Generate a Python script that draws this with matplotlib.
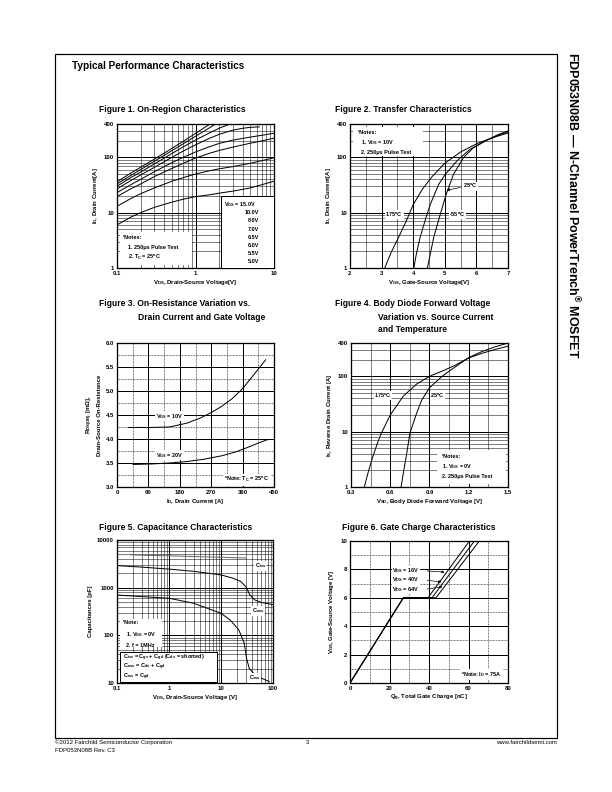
import matplotlib
matplotlib.use('Agg')
import matplotlib.pyplot as plt
import numpy as np
from matplotlib.ticker import FixedLocator, FixedFormatter, NullFormatter, LogLocator, MultipleLocator
from matplotlib.patches import Rectangle

plt.rcParams['font.family'] = ['Liberation Sans', 'DejaVu Sans']
plt.rcParams['mathtext.fontset'] = 'custom'
plt.rcParams['mathtext.rm'] = 'Liberation Sans:bold'
plt.rcParams['mathtext.it'] = 'Liberation Sans:bold'
plt.rcParams['mathtext.bf'] = 'Liberation Sans:bold'
plt.rcParams['mathtext.default'] = 'regular'

W, H = 612, 792

# Figure 1: on-region, one curve per VGS
fig1_vgs = ['15.0V', '10.0V', '8.0V', '7.0V', '6.5V', '6.0V', '5.5V', '5.0V']
fig1_vds = [
    [0.1, 0.15, 0.2, 0.3, 0.5, 0.7, 1.0, 1.2, 1.4, 1.55],
    [0.1, 0.15, 0.2, 0.3, 0.5, 0.7, 1.0, 1.3, 1.6, 1.8],
    [0.1, 0.15, 0.2, 0.3, 0.5, 0.7, 1.0, 1.5, 2.0, 2.5, 2.8],
    [0.1, 0.15, 0.2, 0.3, 0.5, 0.7, 1, 1.5, 2, 3, 4, 5, 6.5],
    [0.1, 0.15, 0.2, 0.3, 0.5, 0.7, 1, 1.5, 2, 3, 5, 7, 10],
    [0.1, 0.15, 0.2, 0.3, 0.5, 0.7, 1, 1.5, 2, 3, 5, 7, 10],
    [0.1, 0.15, 0.2, 0.3, 0.5, 0.7, 1, 1.5, 2, 3, 5, 7, 10],
    [0.1, 0.15, 0.2, 0.3, 0.5, 0.7, 1, 1.5, 2, 3, 5, 7, 10],
]
fig1_id = [
    [36, 52, 66, 93, 145, 195, 270, 320, 370, 400],
    [33, 47, 60, 85, 132, 176, 240, 300, 360, 400],
    [30, 43, 54, 76, 117, 155, 205, 275, 335, 380, 400],
    [27, 38, 48, 66, 100, 130, 168, 220, 260, 310, 335, 348, 355],
    [23, 32, 40, 55, 80, 100, 125, 155, 178, 205, 232, 250, 272],
    [19.5, 27, 33, 45, 63, 78, 97, 118, 133, 153, 180, 198, 222],
    [13, 18, 22, 28, 37, 43, 50, 57, 62, 68, 78, 87, 98],
    [6, 8.3, 10, 12.5, 15.5, 17.5, 19.5, 21, 22.5, 24.5, 28, 32, 37],
]

# Figure 2: transfer
fig2_temps = ['175$^o$C', '25$^o$C', '-55$^o$C']
fig2_vgs = [
    [3.1, 3.3, 3.55, 3.8, 4.0, 4.3, 4.6, 5.0, 5.5, 6.0, 6.5, 7.0],
    [4.02, 4.1, 4.22, 4.4, 4.54, 4.8, 5.0, 5.4, 5.8, 6.3, 6.7, 7.0],
    [4.45, 4.55, 4.65, 4.86, 5.05, 5.28, 5.6, 5.9, 6.3, 6.7, 7.0],
]
fig2_id = [
    [1, 1.9, 3.7, 7.5, 14, 27, 45, 78, 125, 175, 225, 275],
    [1, 1.8, 3.6, 8, 14, 32, 48, 88, 140, 200, 250, 290],
    [1, 1.9, 3.6, 9.5, 22, 50, 100, 148, 200, 260, 300],
]

# Figure 3: on-resistance
fig3_id10 = [32, 90, 150, 200, 240, 270, 300, 330, 360, 390, 426]
fig3_r10 = [4.24, 4.24, 4.25, 4.33, 4.44, 4.55, 4.68, 4.84, 5.05, 5.32, 5.65]
fig3_id20 = [46, 100, 150, 200, 250, 300, 340, 380, 410, 433]
fig3_r20 = [3.47, 3.48, 3.50, 3.53, 3.58, 3.65, 3.73, 3.84, 3.93, 3.99]

# Figure 4: body diode
fig4_vsd175 = [0.402, 0.43, 0.466, 0.5, 0.53, 0.6, 0.7, 0.8, 0.9, 1.0, 1.1, 1.2, 1.3, 1.4, 1.5]
fig4_is175 = [1, 1.8, 3.5, 6, 9.2, 20, 44, 72, 100, 125, 160, 215, 260, 305, 350]
fig4_vsd25 = [0.683, 0.70, 0.72, 0.75, 0.8, 0.84, 0.9, 1.0, 1.1, 1.2, 1.3, 1.4, 1.5]
fig4_is25 = [1, 1.8, 3.3, 9.3, 21, 37, 62, 102, 150, 218, 280, 340, 400]

# Figure 5: capacitance
fig5_vds_ciss = [0.18, 0.3, 1, 3, 10, 20, 30]
fig5_ciss = [4900, 4800, 4650, 4500, 4350, 4250, 4200]
fig5_vds_coss = [0.1, 0.3, 1, 3, 10, 17, 24, 30, 36, 45, 60, 100]
fig5_coss = [2900, 2700, 2450, 2200, 1850, 1580, 1350, 1050, 700, 550, 490, 440]
fig5_vds_crss = [0.1, 0.3, 1, 3, 10, 15, 22, 28, 31, 35, 45, 60, 85]
fig5_crss = [700, 650, 600, 470, 290, 210, 130, 68, 33, 20, 15, 12.6, 10.7]

# Figure 6: gate charge
fig6_vds = ['16V', '40V', '64V']
fig6_qg = [[0, 27, 39.5, 60.5], [0, 27, 41.5, 63], [0, 27, 43.5, 65.5]]
fig6_vgs = [0, 6, 6, 10]


def px(x, y):
    return x / W, 1 - y / H


def add_axes(fig, x0, y0, x1, y1):
    ax = fig.add_axes([x0 / W, 1 - y1 / H, (x1 - x0) / W, (y1 - y0) / H])
    for s in ax.spines.values():
        s.set_linewidth(1.3)
    ax.tick_params(which='both', length=0, labelsize=6, pad=3)
    return ax


def log_grid(ax, axis):
    loc = LogLocator(base=10, subs=np.arange(2, 10))
    if axis == 'x':
        ax.xaxis.set_minor_locator(loc)
        ax.xaxis.set_minor_formatter(NullFormatter())
    else:
        ax.yaxis.set_minor_locator(loc)
        ax.yaxis.set_minor_formatter(NullFormatter())


def set_ticks(ax, axis, vals, labels):
    a = ax.xaxis if axis == 'x' else ax.yaxis
    a.set_major_locator(FixedLocator(vals))
    a.set_major_formatter(FixedFormatter(labels))


def grids(ax, minor_ls='-'):
    ax.grid(which='major', color='black', lw=1.0)
    ax.grid(which='minor', color='black', lw=0.5, ls=minor_ls)
    ax.set_axisbelow(True)


def boldticks(ax):
    for lab in ax.get_xticklabels() + ax.get_yticklabels():
        lab.set_fontweight('bold')
        lab.set_fontsize(6)


def white_box(ax, x0, y0, w, h, edge=True):
    ax.add_patch(Rectangle((x0, y0), w, h, transform=ax.transAxes, facecolor='white',
                           edgecolor='black' if edge else 'white', lw=1.0 if edge else 0, zorder=3))


lab_kw = dict(fontsize=6, fontweight='bold')
txt_kw = dict(fontsize=5.5, fontweight='bold', zorder=5)
bb = dict(facecolor='white', edgecolor='none', pad=0.5)

fig = plt.figure(figsize=(W / 72, H / 72), dpi=72)

# page frame and headings
fig.add_artist(Rectangle(px(55, 738), 502 / W, 684 / H, transform=fig.transFigure,
                         facecolor='none', edgecolor='black', lw=1.2))
fig.text(*px(72, 66), 'Typical Performance Characteristics', fontsize=10, fontweight='bold', va='center')
fig.text(*px(573, 52), 'FDP053N08B \u2014 N-Channel PowerTrench$^{\u00ae}$ MOSFET',
         rotation=270, fontsize=12.5, fontweight='bold', va='top', ha='center')
fig.text(*px(55, 742), '\u00a92012 Fairchild Semiconductor Corporation', fontsize=6, va='center')
fig.text(*px(55, 750), 'FDP053N08B Rev. C3', fontsize=6, va='center')
fig.text(*px(307, 742), '3', fontsize=6, va='center', ha='center')
fig.text(*px(557, 742), 'www.fairchildsemi.com', fontsize=6, va='center', ha='right')

title_kw = dict(fontsize=8.5, fontweight='bold', va='center')
fig.text(*px(99, 109), 'Figure 1. On-Region Characteristics', **title_kw)
fig.text(*px(335, 109), 'Figure 2. Transfer Characteristics', **title_kw)
fig.text(*px(99, 304), 'Figure 3. On-Resistance Variation vs.', **title_kw)
fig.text(*px(138, 317), 'Drain Current and Gate Voltage', **title_kw)
fig.text(*px(335, 304), 'Figure 4. Body Diode Forward Voltage', **title_kw)
fig.text(*px(378, 317), 'Variation vs. Source Current', **title_kw)
fig.text(*px(378, 329), 'and Temperature', **title_kw)
fig.text(*px(99, 527), 'Figure 5. Capacitance Characteristics', **title_kw)
fig.text(*px(342, 527), 'Figure 6. Gate Charge Characteristics', **title_kw)

# ---- Figure 1
ax1 = add_axes(fig, 117, 124, 274, 268)
ax1.set_xscale('log')
ax1.set_yscale('log')
ax1.set_xlim(0.1, 10)
ax1.set_ylim(1, 400)
log_grid(ax1, 'x')
log_grid(ax1, 'y')
set_ticks(ax1, 'x', [0.1, 1, 10], ['0.1', '1', '10'])
set_ticks(ax1, 'y', [1, 10, 100, 400], ['1', '10', '100', '400'])
grids(ax1)
for xs, ys in zip(fig1_vds, fig1_id):
    ax1.plot(xs, ys, color='black', lw=1.0, zorder=2)
white_box(ax1, 0.66, 0.0, 0.34, 0.5)
ax1.text(0.68, 0.44, 'V$_{GS}$ = ' + fig1_vgs[0], transform=ax1.transAxes, va='center', **txt_kw)
for i, v in enumerate(fig1_vgs[1:]):
    ax1.text(0.905, 0.44 - (i + 1) * 0.0565, v, transform=ax1.transAxes, ha='right', va='center', **txt_kw)
white_box(ax1, 0.02, 0.02, 0.46, 0.23, edge=False)
ax1.text(0.04, 0.215, '*Notes:', transform=ax1.transAxes, va='center', **txt_kw)
ax1.text(0.07, 0.145, '1. 250\u03bcs Pulse Test', transform=ax1.transAxes, va='center', **txt_kw)
ax1.text(0.07, 0.075, '2. T$_C$ = 25$^o$C', transform=ax1.transAxes, va='center', **txt_kw)
ax1.set_xlabel('V$_{DS}$, Drain-Source Voltage[V]', labelpad=2, **lab_kw)
ax1.set_ylabel('I$_D$, Drain Current[A]', labelpad=4, **lab_kw)
boldticks(ax1)

# ---- Figure 2
ax2 = add_axes(fig, 350, 124, 508, 268)
ax2.set_yscale('log')
ax2.set_xlim(2, 7)
ax2.set_ylim(1, 400)
log_grid(ax2, 'y')
ax2.xaxis.set_minor_locator(MultipleLocator(0.5))
set_ticks(ax2, 'y', [1, 10, 100, 400], ['1', '10', '100', '400'])
set_ticks(ax2, 'x', [2, 3, 4, 5, 6, 7], ['2', '3', '4', '5', '6', '7'])
grids(ax2)
for xs, ys in zip(fig2_vgs, fig2_id):
    ax2.plot(xs, ys, color='black', lw=1.0, zorder=2)
white_box(ax2, 0.02, 0.78, 0.44, 0.2, edge=False)
ax2.text(0.05, 0.94, '*Notes:', transform=ax2.transAxes, va='center', **txt_kw)
ax2.text(0.07, 0.87, '1. V$_{DS}$ = 10V', transform=ax2.transAxes, va='center', **txt_kw)
ax2.text(0.07, 0.80, '2. 250\u03bcs Pulse Test', transform=ax2.transAxes, va='center', **txt_kw)
ax2.text(3.4, 9.2, fig2_temps[0], ha='center', va='center', bbox=bb, **txt_kw)
ax2.text(5.8, 30, fig2_temps[1], ha='center', va='center', bbox=bb, **txt_kw)
ax2.annotate('', xy=(5.0, 25), xytext=(5.55, 29),
             arrowprops=dict(arrowstyle='-|>', color='black', lw=0.7, mutation_scale=5), zorder=5)
ax2.text(5.4, 9.2, fig2_temps[2], ha='center', va='center', bbox=bb, **txt_kw)
ax2.set_xlabel('V$_{GS}$, Gate-Source Voltage[V]', labelpad=2, **lab_kw)
ax2.set_ylabel('I$_D$, Drain Current[A]', labelpad=4, **lab_kw)
boldticks(ax2)

# ---- Figure 3
ax3 = add_axes(fig, 117, 343, 274, 487)
ax3.set_xlim(0, 450)
ax3.set_ylim(3.0, 6.0)
ax3.xaxis.set_major_locator(MultipleLocator(90))
ax3.xaxis.set_minor_locator(MultipleLocator(45))
ax3.yaxis.set_major_locator(FixedLocator([3.0, 3.5, 4.0, 4.5, 5.0, 5.5, 6.0]))
ax3.yaxis.set_major_formatter(FixedFormatter(['3.0', '3.5', '4.0', '4.5', '5.0', '5.5', '6.0']))
ax3.yaxis.set_minor_locator(MultipleLocator(0.25))
grids(ax3, minor_ls=(0, (2, 1)))
ax3.plot(fig3_id10, fig3_r10, color='black', lw=1.0, zorder=2)
ax3.plot(fig3_id20, fig3_r20, color='black', lw=1.0, zorder=2)
ax3.text(150, 4.47, 'V$_{GS}$ = 10V', ha='center', va='center', bbox=bb, **txt_kw)
ax3.text(150, 3.66, 'V$_{GS}$ = 20V', ha='center', va='center', bbox=bb, **txt_kw)
ax3.text(0.97, 0.05, '*Note: T$_C$ = 25$^o$C', transform=ax3.transAxes, ha='right', va='center',
         bbox=dict(facecolor='white', edgecolor='none', pad=1.5), **txt_kw)
ax3.set_xlabel('I$_D$, Drain Current [A]', labelpad=2, **lab_kw)
ax3.set_ylabel('R$_{DS(ON)}$ [m\u03a9],\nDrain-Source On-Resistance', labelpad=4, linespacing=1.3, **lab_kw)
boldticks(ax3)

# ---- Figure 4
ax4 = add_axes(fig, 351, 343, 508, 487)
ax4.set_yscale('log')
ax4.set_xlim(0.3, 1.5)
ax4.set_ylim(1, 400)
log_grid(ax4, 'y')
ax4.xaxis.set_minor_locator(MultipleLocator(0.15))
set_ticks(ax4, 'x', [0.3, 0.6, 0.9, 1.2, 1.5], ['0.3', '0.6', '0.9', '1.2', '1.5'])
set_ticks(ax4, 'y', [1, 10, 100, 400], ['1', '10', '100', '400'])
grids(ax4)
ax4.plot(fig4_vsd175, fig4_is175, color='black', lw=1.0, zorder=2)
ax4.plot(fig4_vsd25, fig4_is25, color='black', lw=1.0, zorder=2)
ax4.text(0.545, 45, '175$^o$C', ha='center', va='center', bbox=bb, **txt_kw)
ax4.text(0.96, 45, '25$^o$C', ha='center', va='center', bbox=bb, **txt_kw)
white_box(ax4, 0.55, 0.02, 0.44, 0.24, edge=False)
ax4.text(0.58, 0.21, '*Notes:', transform=ax4.transAxes, va='center', **txt_kw)
ax4.text(0.58, 0.14, '1. V$_{GS}$ = 0V', transform=ax4.transAxes, va='center', **txt_kw)
ax4.text(0.58, 0.07, '2. 250\u03bcs Pulse Test', transform=ax4.transAxes, va='center', **txt_kw)
ax4.set_xlabel('V$_{SD}$, Body Diode Forward Voltage [V]', labelpad=2, **lab_kw)
ax4.set_ylabel('I$_S$, Reverse Drain Current [A]', labelpad=4, **lab_kw)
boldticks(ax4)

# ---- Figure 5
ax5 = add_axes(fig, 117, 540, 273, 683)
ax5.set_xscale('log')
ax5.set_yscale('log')
ax5.set_xlim(0.1, 100)
ax5.set_ylim(10, 10000)
log_grid(ax5, 'x')
log_grid(ax5, 'y')
set_ticks(ax5, 'x', [0.1, 1, 10, 100], ['0.1', '1', '10', '100'])
set_ticks(ax5, 'y', [10, 100, 1000, 10000], ['10', '100', '1000', '10000'])
grids(ax5)
ax5.plot(fig5_vds_ciss, fig5_ciss, color='#666666', lw=1.0, zorder=2)
ax5.plot(fig5_vds_coss, fig5_coss, color='black', lw=1.0, zorder=2)
ax5.plot(fig5_vds_crss, fig5_crss, color='black', lw=1.0, zorder=2)
ax5.text(57, 2900, 'C$_{iss}$', ha='center', va='center', bbox=bb, **txt_kw)
ax5.text(52, 330, 'C$_{oss}$', ha='center', va='center', bbox=bb, **txt_kw)
ax5.text(45, 13, 'C$_{rss}$', ha='center', va='center', bbox=bb, **txt_kw)
white_box(ax5, 0.02, 0.25, 0.27, 0.2, edge=False)
ax5.text(0.04, 0.42, '*Note:', transform=ax5.transAxes, va='center', **txt_kw)
ax5.text(0.06, 0.34, '1. V$_{GS}$ = 0V', transform=ax5.transAxes, va='center', **txt_kw)
ax5.text(0.06, 0.26, '2. f = 1MHz', transform=ax5.transAxes, va='center', **txt_kw)
white_box(ax5, 0.02, 0.01, 0.62, 0.21)
ax5.text(0.04, 0.175, 'C$_{iss}$ = C$_{gs}$ + C$_{gd}$ (C$_{ds}$ = shorted)', transform=ax5.transAxes,
         va='center', **txt_kw)
ax5.text(0.04, 0.11, 'C$_{oss}$ = C$_{ds}$ + C$_{gd}$', transform=ax5.transAxes, va='center', **txt_kw)
ax5.text(0.04, 0.045, 'C$_{rss}$ = C$_{gd}$', transform=ax5.transAxes, va='center', **txt_kw)
ax5.set_xlabel('V$_{DS}$, Drain-Source Voltage [V]', labelpad=2, **lab_kw)
ax5.set_ylabel('Capacitances [pF]', labelpad=4, **lab_kw)
boldticks(ax5)

# ---- Figure 6
ax6 = add_axes(fig, 350, 541, 508, 683)
ax6.set_xlim(0, 80)
ax6.set_ylim(0, 10)
ax6.xaxis.set_major_locator(MultipleLocator(20))
ax6.xaxis.set_minor_locator(MultipleLocator(10))
ax6.yaxis.set_major_locator(MultipleLocator(2))
ax6.yaxis.set_minor_locator(MultipleLocator(1))
grids(ax6, minor_ls=(0, (2, 1)))
for qs in fig6_qg:
    ax6.plot(qs, fig6_vgs, color='black', lw=1.0, zorder=2)
arrow_end = [(48.9, 7.8), (47.3, 7.1), (47.8, 6.8)]
for i, v in enumerate(fig6_vds):
    yl = 7.9 - i * 0.65
    ax6.text(21.5, yl, 'V$_{DS}$ = ' + v, va='center', bbox=dict(facecolor='white', edgecolor='none', pad=0.2),
             **txt_kw)
    ax6.annotate('', xy=arrow_end[i], xytext=(38, yl),
                 arrowprops=dict(arrowstyle='-|>', color='black', lw=0.7, mutation_scale=5), zorder=5)
ax6.text(0.96, 0.06, '*Note: I$_D$ = 75A', transform=ax6.transAxes, ha='right', va='center',
         bbox=dict(facecolor='white', edgecolor='none', pad=1.5), **txt_kw)
ax6.set_xlabel('Q$_g$, Total Gate Charge [nC]', labelpad=2, **lab_kw)
ax6.set_ylabel('V$_{GS}$, Gate-Source Voltage [V]', labelpad=4, **lab_kw)
boldticks(ax6)

fig.savefig('out.png', dpi=72)
